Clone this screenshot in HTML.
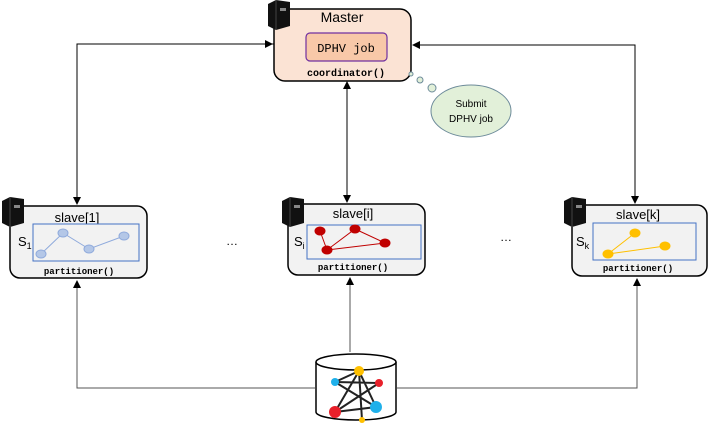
<!DOCTYPE html>
<html><head><style>
body{margin:0;background:#fff;width:708px;height:425px;overflow:hidden}
svg{display:block}
.t{font-family:"Liberation Sans",sans-serif}
.m{font-family:"Liberation Mono",monospace;font-weight:bold}
</style></head><body>
<svg width="708" height="425" viewBox="0 0 708 425">
<defs>
<marker id="a" markerWidth="8" markerHeight="8" refX="7" refY="4" orient="auto" markerUnits="userSpaceOnUse"><path d="M0,0 L8,4 L0,8 z" fill="#000"/></marker>
<g id="srv"><path d="M0,4 L8,0 L22,2 L22,26 L8,30 L0,26 z" fill="#111"/><path d="M8,0 L8,30" stroke="#444" stroke-width="1"/><rect x="12" y="8" width="6" height="3" fill="#888"/></g>
</defs>
<g stroke="#000" stroke-width="1" fill="none">
<path d="M274,44 H77 V204" marker-end="url(#a)"/>
<path d="M77,44 H272" marker-end="url(#a)"/>
<path d="M635,45 H413" marker-end="url(#a)"/>
<path d="M413,45 H635 V203" marker-end="url(#a)"/>
<path d="M347,140 V82" marker-end="url(#a)"/>
<path d="M347,140 V202" marker-end="url(#a)"/>
</g>
<g stroke="#555" stroke-width="1" fill="none">
<path d="M315,388 H77 V281" marker-end="url(#a)"/>
<path d="M350,352 V278" marker-end="url(#a)"/>
<path d="M397,388 H637 V279" marker-end="url(#a)"/>
</g>
<rect x="274" y="9" width="137" height="72" rx="11" fill="#fbe3d4" stroke="#000" stroke-width="1.5"/>
<use href="#srv" x="268" y="0"/>
<text x="342" y="22" class="t" font-size="14" text-anchor="middle">Master</text>
<rect x="306" y="33" width="81" height="28" rx="4" fill="#f8c8a8" stroke="#7030a0" stroke-width="1.2"/>
<text x="346" y="52" class="m" font-size="12" text-anchor="middle" style="font-weight:normal">DPHV job</text>
<text x="346" y="76" class="m" font-size="10" text-anchor="middle">coordinator()</text>
<g fill="#e2f0d9" stroke="#6d8b9a" stroke-width="1">
<circle cx="411" cy="74" r="2"/><circle cx="420" cy="80" r="3"/><circle cx="432" cy="88" r="4"/>
<ellipse cx="471" cy="111" rx="40" ry="26"/>
</g>
<text x="471" y="107" class="t" font-size="10" text-anchor="middle">Submit</text>
<text x="471" y="122" class="t" font-size="10" text-anchor="middle">DPHV job</text>
<rect x="10" y="206" width="137" height="72" rx="10" fill="#f2f2f2" stroke="#000" stroke-width="1.5"/>
<use href="#srv" x="2" y="197"/>
<text x="77" y="222" class="t" font-size="13" text-anchor="middle">slave[1]</text>
<rect x="33" y="224" width="106" height="37" fill="#f2f2f2" stroke="#4472c4" stroke-width="1"/>
<text x="18" y="246" class="t" font-size="13">S<tspan font-size="9" dy="3">1</tspan></text>
<g stroke="#8faadc" fill="#b4c7e7"><path d="M41,254 L63,233 L89,249 L124,236" fill="none"/><ellipse cx="41" cy="254" rx="5" ry="4"/><ellipse cx="63" cy="233" rx="5" ry="4"/><ellipse cx="89" cy="249" rx="5" ry="4"/><ellipse cx="124" cy="236" rx="5" ry="4"/></g>
<text x="79" y="274" class="m" font-size="9" text-anchor="middle">partitioner()</text>
<text x="232" y="245" class="t" font-size="12" text-anchor="middle">…</text>
<rect x="288" y="204" width="137" height="71" rx="10" fill="#f2f2f2" stroke="#000" stroke-width="1.5"/>
<use href="#srv" x="282" y="197"/>
<text x="353" y="218" class="t" font-size="13" text-anchor="middle">slave[i]</text>
<rect x="307" y="225" width="114" height="34" fill="#f2f2f2" stroke="#4472c4" stroke-width="1"/>
<text x="294" y="246" class="t" font-size="13">S<tspan font-size="9" dy="3">i</tspan></text>
<g stroke="#c00000" fill="#c00000"><path d="M320,231 L327,250 L355,229 L385,243 L327,250" fill="none"/><ellipse cx="320" cy="231" rx="5" ry="4"/><ellipse cx="327" cy="250" rx="5" ry="4"/><ellipse cx="355" cy="229" rx="5" ry="4"/><ellipse cx="385" cy="243" rx="5" ry="4"/></g>
<text x="353" y="270" class="m" font-size="9" text-anchor="middle">partitioner()</text>
<text x="506" y="241" class="t" font-size="12" text-anchor="middle">…</text>
<rect x="572" y="205" width="135" height="71" rx="10" fill="#f2f2f2" stroke="#000" stroke-width="1.5"/>
<use href="#srv" x="564" y="197"/>
<text x="638" y="219" class="t" font-size="13" text-anchor="middle">slave[k]</text>
<rect x="593" y="223" width="103" height="37" fill="#f2f2f2" stroke="#4472c4" stroke-width="1"/>
<text x="576" y="246" class="t" font-size="13">S<tspan font-size="9" dy="3">k</tspan></text>
<g stroke="#ffc000" fill="#ffc000"><path d="M608,254 L635,233 M608,254 L665,246" fill="none"/><ellipse cx="608" cy="254" rx="5" ry="4"/><ellipse cx="635" cy="233" rx="5" ry="4"/><ellipse cx="665" cy="246" rx="5" ry="4"/></g>
<text x="638" y="271" class="m" font-size="9" text-anchor="middle">partitioner()</text>
<path d="M316,362 V412 A40,8 0 0 0 396,412 V362" fill="#fff" stroke="#000" stroke-width="1.5"/>
<ellipse cx="356" cy="362" rx="40" ry="8" fill="#fff" stroke="#000" stroke-width="1.5"/>
<g stroke="#222" stroke-width="2" fill="none"><path d="M359,371 L335,382 L379,383 L335,412 L359,371 L376,407 L335,412 M359,371 L362,420 M335,382 L376,407"/></g>
<circle cx="359" cy="371" r="5" fill="#ffc000"/><circle cx="335" cy="382" r="4" fill="#1fb0ea"/><circle cx="379" cy="383" r="4" fill="#e8202a"/><circle cx="335" cy="412" r="6" fill="#e8202a"/><circle cx="376" cy="407" r="6" fill="#1fb0ea"/><circle cx="362" cy="420" r="3" fill="#ffc000"/>
</svg>
</body></html>
